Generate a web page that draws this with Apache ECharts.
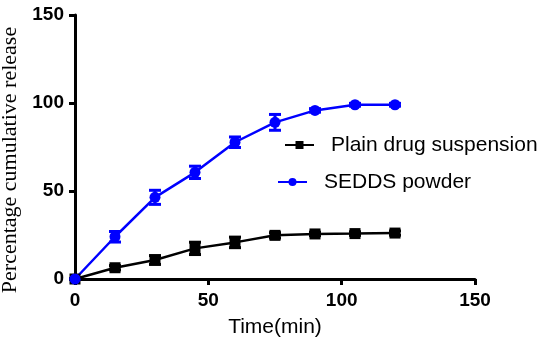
<!DOCTYPE html>
<html><head><meta charset="utf-8">
<script src="https://cdn.jsdelivr.net/npm/echarts@6/dist/echarts.min.js"></script>
<style>html,body{margin:0;padding:0;background:#fff}#c{width:548px;height:345px}</style>
</head><body><div id="c"></div>
<script>
var times = [0, 15, 30, 45, 60, 75, 90, 105, 120];
var plainMean = [0, 6.4, 10.8, 17.4, 20.8, 24.8, 25.6, 25.8, 26.1];
var plainErr  = [0, 1.2, 2.5, 3.5, 3, 1.5, 1, 1, 1.2];
var seddsMean = [0, 24, 46.4, 60.6, 77.7, 89, 95.8, 99, 99];
var seddsErr  = [0, 3, 4, 3.5, 3, 4.5, 1, 0.8, 0.8];
var xTicks = [0, 50, 100, 150];
var yTicks = [0, 50, 100, 150];
var names = ['Plain drug suspension', 'SEDDS powder'];

function pairs(m){ return times.map(function(t,i){ return [t, m[i]]; }); }
function errData(m,e){ return times.map(function(t,i){ return [t, m[i]-e[i], m[i]+e[i]]; }); }
function errSeries(m,e,color){
  return {
    type:'custom', silent:true, z:3,
    data: errData(m,e),
    renderItem:function(params, api){
      var lo = api.coord([api.value(0), api.value(1)]);
      var hi = api.coord([api.value(0), api.value(2)]);
      var w = 6;
      var st = {stroke:color, lineWidth:3};
      return {type:'group', children:[
        {type:'line', shape:{x1:lo[0],y1:lo[1],x2:hi[0],y2:hi[1]}, style:st},
        {type:'line', shape:{x1:lo[0]-w,y1:lo[1],x2:lo[0]+w,y2:lo[1]}, style:st},
        {type:'line', shape:{x1:hi[0]-w,y1:hi[1],x2:hi[0]+w,y2:hi[1]}, style:st}
      ]};
    }
  };
}

var tickFont = {color:'#000', fontFamily:'Liberation Sans, Arial', fontWeight:'bold', fontSize:19};
var chart = echarts.init(document.getElementById('c'));
chart.setOption({
  animation:false,
  grid:{left:75, top:15, width:400, height:264, containLabel:false, outerBoundsMode:'none'},
  xAxis:{
    type:'value', min:0, max:150, interval:50,
    axisLine:{show:true, onZero:false, lineStyle:{color:'#000', width:3}},
    axisTick:{show:true, length:6, lineStyle:{color:'#000', width:3}},
    splitLine:{show:false},
    axisLabel:Object.assign({margin:12,
      formatter:function(v){ return xTicks.indexOf(v)>=0 ? String(v) : ''; }}, tickFont),
    name:'Time(min)', nameLocation:'middle', nameGap:38,
    nameTextStyle:{color:'#000', fontFamily:'Liberation Sans, Arial', fontSize:21}
  },
  yAxis:{
    type:'value', min:0, max:150, interval:50,
    axisLine:{show:true, onZero:false, lineStyle:{color:'#000', width:3}},
    axisTick:{show:true, length:6, lineStyle:{color:'#000', width:3}},
    splitLine:{show:false},
    axisLabel:Object.assign({margin:11,
      formatter:function(v){ return yTicks.indexOf(v)>=0 ? String(v) : ''; }}, tickFont),
    name:'Percentage cumulative release', nameLocation:'middle', nameGap:43,
    nameTextStyle:{color:'#000', fontFamily:'Liberation Serif, Times New Roman', fontSize:22, padding:[0,26,0,0]}
  },
  legend:[
    {data:[names[0]], left:284, top:134, itemWidth:29, itemHeight:10, itemGap:10, padding:0,
     textStyle:{color:'#000', fontFamily:'Liberation Sans, Arial', fontSize:21, lineHeight:22, padding:[0,0,0,12]}},
    {data:[names[1]], left:277, top:171, itemWidth:29, itemHeight:10, itemGap:10, padding:0,
     textStyle:{color:'#000', fontFamily:'Liberation Sans, Arial', fontSize:21, lineHeight:22, padding:[0,0,0,12]}}
  ],
  series:[
    {name:names[0], type:'line', data:pairs(plainMean), symbol:'rect', symbolSize:11,
     itemStyle:{color:'#000'}, lineStyle:{color:'#000', width:2.5}, z:4},
    {name:names[1], type:'line', data:pairs(seddsMean), symbol:'circle', symbolSize:11,
     itemStyle:{color:'#0000ff'}, lineStyle:{color:'#0000ff', width:2.5}, z:4},
    errSeries(plainMean, plainErr, '#000'),
    errSeries(seddsMean, seddsErr, '#0000ff')
  ]
});
</script></body></html>
